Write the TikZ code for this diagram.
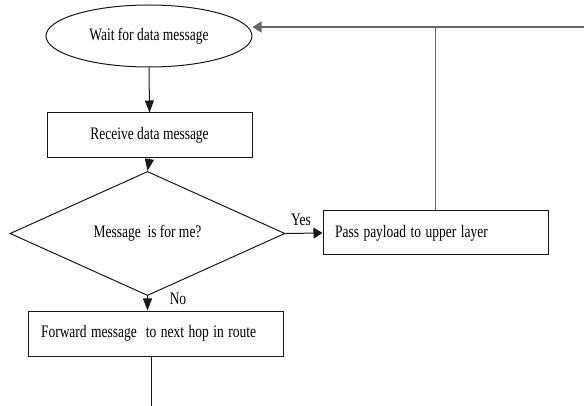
\documentclass[tikz,border=0pt]{standalone}
\usepackage{fontspec}
\setmainfont{Liberation Serif}
\usepackage{graphicx}
\usetikzlibrary{shapes.geometric,arrows.meta,calc}

% text set in a slightly tall face
\newcommand{\tallt}[1]{\scalebox{1}[1.3]{#1}}

\tikzset{
  x=1pt, y=-1pt,
  every node/.style={font=\fontsize{13.5}{15}\selectfont},
  shapeline/.style={draw=black!90, line width=1pt},
  procbox/.style={shapeline, rectangle, inner sep=0pt},
  leftbox/.style={procbox, align=left, inner ysep=0pt},
  flow/.style={draw=black!90, line width=1pt},
  back/.style={draw=black!60, line width=1.3pt},
  vtip/.style={-{Triangle[length=12pt,width=9pt]}},
  htip/.style={-{Triangle[length=9pt,width=11pt]}},
  tag/.style={inner sep=0pt}
}

\begin{document}
\begin{tikzpicture}
  \useasboundingbox (0,0) rectangle (584,406);

  % process steps
  \node[shapeline, ellipse, minimum width=206pt, minimum height=62pt, inner sep=0pt]
    (wait) at (149,36) {\tallt{Wait for data message}};
  \node[procbox, minimum width=205pt, minimum height=45pt]
    (recv) at (149.5,135.5) {\tallt{Receive data message}};
  \node[shapeline, diamond, minimum width=275pt, minimum height=73pt, inner sep=0pt]
    (dec) at (147.5,233.5) {\tallt{Message~ is for me?}};
  \node[leftbox, text width=229pt, inner xsep=13pt, minimum height=45pt]
    (fwd) at (155.5,333.5) {\tallt{Forward message~ to next hop in route}};
  \node[leftbox, text width=201pt, inner xsep=12pt, minimum height=44pt]
    (pass) at (435.5,233) {\tallt{Pass payload to upper layer}};

  % branch labels
  \node[tag] (yes) at (301,220) {\tallt{Yes}};
  \node[tag] (no) at (178,299) {\tallt{No}};

  % free ends of the open connectors
  \coordinate (edge) at (584,27);
  \coordinate (tail) at (151,406);

  % main flow
  \draw[flow, vtip] (wait.south) -- (recv.north);
  \draw[flow, vtip] (recv.south) -- (dec.north);
  \draw[flow, htip] (dec.east) -- (pass.west);
  \draw[flow, vtip] (dec.south) -- (dec.south |- fwd.north);
  \draw[flow] (tail |- fwd.south) -- (tail);

  % loop back to waiting
  \draw[back] (pass.north) -- (pass.north |- edge);
  \draw[back, htip] (edge) -- (edge -| wait.east);
\end{tikzpicture}
\end{document}
